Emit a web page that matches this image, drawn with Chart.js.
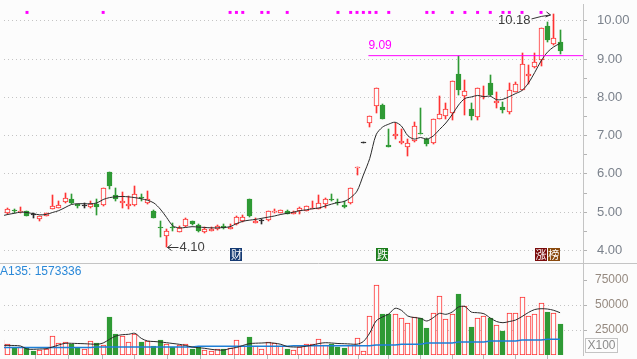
<!DOCTYPE html>
<html>
<head>
<meta charset="utf-8">
<script src="https://cdn.jsdelivr.net/npm/chart.js@4.4.1/dist/chart.umd.min.js"></script>
<style>
  html, body { margin: 0; padding: 0; background: #fcfcfc; }
  canvas { display: block; }
</style>
</head>
<body>
<canvas id="c1" width="637" height="359"></canvas>
<script>
// daily candles, oldest first (the first one is cut off by the left edge)
const opens = [
  4.98,4.98,5.03,5.00,5.02,4.93,4.81,4.91,5.07,5.12,
  5.26,5.34,5.21,5.17,5.14,5.21,5.18,6.05,5.46,5.25,
  5.17,5.19,5.40,5.23,5.02,4.60,4.38,4.62,4.49,4.64,
  4.77,4.66,4.48,4.52,4.55,4.63,4.57,4.68,4.76,5.35,
  4.72,4.76,4.80,5.00,4.99,5.04,4.95,5.02,5.04,5.09,
  5.09,5.21,5.35,5.26,5.19,5.24,6.15,6.82,7.33,7.78,
  7.79,6.75,7.00,6.82,6.71,6.86,7.08,6.92,6.82,7.44,
  7.52,7.59,8.60,8.03,7.69,7.49,8.00,8.37,7.86,7.74,
  7.61,8.13,8.20,8.57,8.80,8.98,9.86,9.39,9.45];
const highs = [
  5.12,5.10,5.09,5.13,5.03,4.97,4.91,4.98,5.45,5.28,
  5.49,5.47,5.22,5.23,5.30,5.34,5.63,6.05,5.62,5.52,
  5.43,5.69,5.47,5.54,5.05,4.76,4.57,4.71,4.63,4.84,
  4.78,4.70,4.61,4.60,4.66,4.70,4.70,4.91,4.93,5.35,
  4.84,4.81,5.03,5.07,5.06,5.05,5.02,5.14,5.17,5.28,
  5.45,5.36,5.47,5.34,5.28,5.64,6.19,6.83,7.50,8.25,
  7.82,7.18,7.33,7.18,6.91,7.35,7.72,6.95,7.44,8.03,
  7.85,8.43,9.09,8.46,7.86,8.24,8.29,8.58,8.14,7.87,
  8.37,8.40,9.17,8.85,9.16,9.81,9.96,10.18,9.75];
const lows = [
  4.96,4.96,4.97,4.98,4.89,4.85,4.78,4.90,5.07,5.10,
  5.23,5.22,5.12,5.10,5.12,4.93,5.16,5.61,5.30,5.12,
  5.09,5.17,5.28,5.21,4.84,4.34,4.10,4.50,4.47,4.62,
  4.67,4.48,4.46,4.51,4.53,4.57,4.55,4.67,4.74,4.87,
  4.71,4.70,4.78,4.98,4.97,4.94,4.94,4.96,5.03,5.08,
  5.07,5.12,5.28,5.19,5.10,5.22,5.98,6.82,7.22,7.59,
  7.43,6.71,6.90,6.78,6.48,6.84,7.03,6.72,6.78,7.44,
  7.44,7.40,8.07,7.55,7.42,7.42,7.97,8.03,7.73,7.58,
  7.56,8.13,8.18,8.34,8.76,8.83,9.45,9.37,9.13];
const closes = [
  5.08,5.07,5.02,5.03,4.91,4.92,4.90,4.97,5.16,5.19,
  5.36,5.24,5.16,5.18,5.21,5.13,5.63,5.68,5.35,5.28,
  5.21,5.48,5.37,5.34,4.84,4.58,4.51,4.59,4.59,4.81,
  4.70,4.51,4.57,4.55,4.63,4.58,4.62,4.88,4.87,4.89,
  4.76,4.77,5.02,5.03,5.05,4.96,5.01,5.10,5.16,5.11,
  5.24,5.34,5.31,5.23,5.13,5.64,6.19,6.83,7.50,8.25,
  7.43,6.71,7.03,6.86,6.82,7.25,7.05,6.78,7.44,7.56,
  7.69,8.43,8.20,8.17,7.50,8.24,8.04,8.07,7.90,7.67,
  8.20,8.35,8.87,8.60,8.93,9.81,9.51,9.56,9.21];
const priceMa = [
  4.90,4.94,4.97,5.00,4.99,4.96,4.93,4.94,4.99,5.04,
  5.12,5.20,5.22,5.22,5.22,5.24,5.33,5.38,5.40,5.41,
  5.40,5.38,5.35,5.31,5.24,5.08,4.86,4.64,4.59,4.60,
  4.62,4.61,4.60,4.59,4.59,4.60,4.62,4.70,4.76,4.79,
  4.81,4.84,4.87,4.90,4.94,4.97,5.00,5.04,5.06,5.09,
  5.11,5.16,5.21,5.25,5.28,5.38,5.55,5.97,6.40,7.02,
  7.22,7.30,7.35,7.25,7.00,6.91,6.95,6.91,6.99,7.16,
  7.33,7.55,7.80,7.97,8.01,8.05,8.02,8.03,7.94,7.95,
  8.02,8.10,8.18,8.37,8.65,8.95,9.18,9.32,9.41];
// volume in lots of 100
const volumes = [
  14700,10700,8000,8000,6700,4000,4700,5700,19000,12300,
  13300,11300,6700,5700,14000,12300,10000,38000,21300,19000,
  13000,21300,13000,14000,9000,15000,11300,8000,10000,10700,
  6300,8000,4700,4000,5700,5700,6700,14700,9000,18000,
  9000,5700,13300,12300,9000,6000,4700,8000,11300,10700,
  15700,10500,11200,8500,6700,10300,17500,4000,39500,70000,
  41000,41300,40700,36700,32300,38000,37300,27300,42300,59000,
  35700,40700,60700,49000,28000,37300,39000,36700,30000,24000,
  41700,42300,58000,39000,40700,52300,43000,41700,31300];
const volMa = [
  9700,9600,9500,9000,6000,5700,6000,6300,8000,10000,
  11700,11700,11500,11300,11000,10700,12000,15700,19000,20300,
  20700,21700,16700,14000,13500,13000,12300,11500,10700,9500,
  8000,7300,6700,5700,5000,4900,6500,7500,9500,11300,
  11800,12000,12300,11800,10700,8500,8000,8000,8800,10000,
  11500,12300,12000,11500,11300,11000,10800,13500,22000,34000,
  38000,41000,46700,44700,39000,37500,36700,34000,37300,41700,
  40700,43000,48000,48500,43000,42300,41300,37000,33500,32300,
  33500,35000,38500,42500,45500,46300,46000,44700,42300];
const volMa135 = [
  7500,7500,7500,7500,7500,7500,7500,7500,7500,7500,
  7500,7500,7500,7500,7500,8000,8000,8000,8000,8000,
  8000,8000,8000,8000,8000,8000,8000,8000,8000,8000,
  8000,8700,8700,8700,8700,8700,8700,8700,8700,8700,
  8700,8700,8700,8700,8700,8700,9200,9200,9200,9200,
  9200,9200,9200,9200,9200,9200,9200,9200,9200,10000,
  10000,10000,10000,10700,10700,10700,10700,12000,12000,12000,
  12000,12000,13000,13000,13000,13000,13000,14000,14000,14000,
  14000,14000,15000,15000,15000,15000,15700,15700,15700];
const dojiDays = [5, 13, 41, 57];
const signalDays = [4, 16, 36, 37, 38, 41, 42, 45, 53, 55, 56, 57, 58, 59, 61, 67, 68, 71, 73, 75, 77, 79, 80, 82, 85];
const weekTicks = [5.3, 10.5, 15.9, 21, 26.2, 31.4, 36.7, 41.9, 46.8, 51.6, 56.3, 61, 66, 71.1, 76, 81, 86];
const priceTicks = [4, 4.5, 5, 5.5, 6, 6.5, 7, 7.5, 8, 8.5, 9, 9.5, 10];
const volTicks = [25000, 50000, 75000];
const resistance = 9.09;
const resistanceFrom = 57.8;
const badges = [
  {day: 37, text: '财', color: '#153a73'},
  {day: 60, text: '跌', color: '#1b7d1b'},
  {day: 85, text: '涨', color: '#7b0c0c'},
  {day: 87, text: '榜', color: '#8a4a0e'}
];

const RED = '#ff3333', GREEN = '#2f9a35', BLACK = '#2a2a2a', BG = '#fcfcfc';
const XMIN = 0.376, XMAX = 91.61;
const days = opens.map((o, i) => i);
const isUp = i => closes[i] >= opens[i];
const candleColor = i => dojiDays.includes(i) ? BLACK : (isUp(i) ? RED : GREEN);

Chart.defaults.font.family = 'Liberation Sans';

// keep bars on whole pixels so the candles stay crisp
const pixelSnap = {
  id: 'pixelSnap',
  beforeDatasetsDraw(chart) {
    chart.data.datasets.forEach((ds, di) => {
      const meta = chart.getDatasetMeta(di);
      if (meta.type !== 'bar') return;
      meta.data.forEach(el => {
        el.x = Math.floor(el.x) + 0.5;
        el.y = Math.round(el.y);
        el.base = Math.round(el.base);
        if (el.y === el.base) el.base = el.y + 1;
      });
    });
  }
};

const overlay = {
  id: 'overlay',
  afterDatasetsDraw(chart) {
    const {ctx, scales: {x, y, yv}} = chart;
    ctx.save();
    // panel divider
    const dy = Math.round(y.bottom) + 0.5;
    ctx.strokeStyle = '#c4c4c4';
    ctx.lineWidth = 1;
    ctx.beginPath(); ctx.moveTo(0, dy); ctx.lineTo(chart.width, dy); ctx.stroke();

    // resistance label
    ctx.fillStyle = '#ff00ff';
    ctx.font = '12px "Liberation Sans"';
    ctx.textAlign = 'left';
    ctx.textBaseline = 'bottom';
    ctx.fillText(resistance.toFixed(2), x.getPixelForValue(resistanceFrom), y.getPixelForValue(resistance) - 4);

    // highest high
    const hi = Math.max(...highs), hiDay = highs.indexOf(hi);
    let px = Math.floor(x.getPixelForValue(hiDay)) + 0.5, py = y.getPixelForValue(hi);
    ctx.fillStyle = '#3a3a3a';
    ctx.font = '13px "Liberation Sans"';
    ctx.textAlign = 'right';
    ctx.textBaseline = 'middle';
    ctx.fillText(hi.toFixed(2), px - 23, py + 6.5);
    ctx.strokeStyle = '#333';
    ctx.beginPath(); ctx.moveTo(px - 22, py + 5); ctx.quadraticCurveTo(px - 12, py + 2, px - 3, py + 1); ctx.stroke();
    ctx.beginPath(); ctx.moveTo(px - 7, py - 2); ctx.lineTo(px - 3, py + 1); ctx.lineTo(px - 8, py + 3); ctx.stroke();

    // lowest low
    const lo = Math.min(...lows), loDay = lows.indexOf(lo);
    px = Math.floor(x.getPixelForValue(loDay)) + 0.5; py = Math.round(y.getPixelForValue(lo)) + 0.5;
    ctx.beginPath(); ctx.moveTo(px + 1, py); ctx.lineTo(px + 12, py); ctx.stroke();
    ctx.beginPath(); ctx.moveTo(px + 5, py - 3); ctx.lineTo(px + 1, py); ctx.lineTo(px + 5, py + 3); ctx.stroke();
    ctx.fillStyle = '#444';
    ctx.textAlign = 'left';
    ctx.fillText(lo.toFixed(2), px + 13, py);

    // event badges
    ctx.font = '11px "Noto Sans CJK SC"';
    ctx.textAlign = 'center';
    badges.forEach(b => {
      const bx = x.getPixelForValue(b.day);
      ctx.fillStyle = b.color;
      ctx.fillRect(Math.round(bx - 6), Math.round(y.bottom) - 15, 12, 13);
      ctx.fillStyle = '#ffffff';
      ctx.fillText(b.text, bx, Math.round(y.bottom) - 8.5);
    });

    // volume panel caption
    ctx.fillStyle = '#2a88d8';
    ctx.font = '12px "Liberation Sans"';
    ctx.textAlign = 'left';
    ctx.fillText('A135: 1573336', 0, y.bottom + 9);

    // unit box
    ctx.strokeStyle = '#c4c4c4';
    ctx.strokeRect(yv.left + 2.5, yv.bottom - 16.5, 32, 14);
    ctx.fillStyle = '#8c8c8c';
    ctx.textAlign = 'center';
    ctx.fillText('X100', yv.left + 18.5, yv.bottom - 9);
    ctx.restore();
  }
};

const noPad = s => { s.paddingTop = 0; s.paddingBottom = 0; s.paddingLeft = 0; s.paddingRight = 0; };

new Chart(document.getElementById('c1'), {
  type: 'bar',
  data: {
    datasets: [
      {
        type: 'scatter',
        data: signalDays.map(d => ({x: d, y: 10.22})),
        pointStyle: 'rect', radius: 2.1, backgroundColor: '#ff00ff', borderWidth: 0,
        order: 0
      },
      {
        type: 'line',
        data: [{x: resistanceFrom, y: resistance}, {x: XMAX, y: resistance}],
        borderColor: '#ff00ff', borderWidth: 1, pointRadius: 0,
        order: 0
      },
      {
        type: 'line',
        data: days.map(i => ({x: i, y: priceMa[i]})),
        borderColor: '#2a2a2a', borderWidth: 1, pointRadius: 0, tension: 0.3,
        order: 1
      },
      {
        // candle bodies
        data: days.map(i => ({x: i, y: [Math.min(opens[i], closes[i]), Math.max(opens[i], closes[i])]})),
        barThickness: 5, grouped: false, minBarLength: 1, borderWidth: 1, borderSkipped: false,
        borderColor: c => candleColor(c.dataIndex),
        backgroundColor: c => (isUp(c.dataIndex) && !dojiDays.includes(c.dataIndex)) ? BG : candleColor(c.dataIndex),
        order: 3
      },
      {
        // wicks
        data: days.map(i => ({x: i, y: [lows[i], highs[i]]})),
        barThickness: 1, grouped: false, minBarLength: 1, borderWidth: 0,
        backgroundColor: c => candleColor(c.dataIndex),
        order: 4
      },
      {
        data: days.map(i => ({x: i, y: volumes[i]})),
        yAxisID: 'yv',
        barThickness: 5, grouped: false, borderWidth: 1, borderSkipped: false,
        borderColor: c => isUp(c.dataIndex) ? RED : GREEN,
        backgroundColor: c => isUp(c.dataIndex) ? BG : GREEN,
        order: 3
      },
      {
        type: 'line', yAxisID: 'yv',
        data: days.map(i => ({x: i, y: volMa[i]})),
        borderColor: '#2a2a2a', borderWidth: 1, pointRadius: 0, tension: 0.3,
        order: 1
      },
      {
        type: 'line', yAxisID: 'yv',
        data: days.map(i => ({x: i, y: volMa135[i]})),
        borderColor: '#1e7fd6', borderWidth: 1.5, pointRadius: 0,
        order: 1
      }
    ]
  },
  options: {
    responsive: false,
    animation: false,
    events: [],
    layout: {padding: 0},
    plugins: {legend: {display: false}, tooltip: {enabled: false}},
    scales: {
      x: {
        type: 'linear', min: XMIN, max: XMAX, offset: false,
        afterBuildTicks: s => { s.ticks = weekTicks.map(v => ({value: v})); },
        afterFit: s => { s.height = 4; noPad(s); },
        ticks: {display: false},
        grid: {offset: false, drawOnChartArea: false, color: '#b4b4b4', tickLength: 4},
        border: {display: false}
      },
      y: {
        type: 'linear', position: 'right', stack: 'panels', stackWeight: 262,
        min: 3.67, max: 10.44,
        afterBuildTicks: s => { s.ticks = priceTicks.map(v => ({value: v})); },
        afterFit: s => { s.width = 54; noPad(s); },
        ticks: {
          autoSkip: false, padding: 10, color: '#7b828c',
          font: {size: 13},
          callback: v => Number.isInteger(v) ? v.toFixed(2) : ''
        },
        grid: {
          color: c => Number.isInteger(c.tick.value) ? '#c4c4c4' : 'rgba(0,0,0,0)',
          tickColor: '#b4b4b4', tickLength: 4
        },
        border: {color: '#c4c4c4', dash: [1, 3]}
      },
      yv: {
        type: 'linear', position: 'right', stack: 'panels', stackWeight: 93,
        min: 0, max: 92000,
        afterBuildTicks: s => { s.ticks = volTicks.map(v => ({value: v})); },
        afterFit: s => { s.width = 54; noPad(s); },
        ticks: {
          autoSkip: false, padding: 8, color: '#968a80',
          font: {size: 12},
          callback: v => String(v)
        },
        grid: {
          color: c => c.tick.value < 70000 ? '#c4c4c4' : 'rgba(0,0,0,0)',
          tickColor: '#b4b4b4', tickLength: 4
        },
        border: {color: '#c4c4c4', dash: [1, 3]}
      }
    }
  },
  plugins: [pixelSnap, overlay]
});
</script>
</body>
</html>
